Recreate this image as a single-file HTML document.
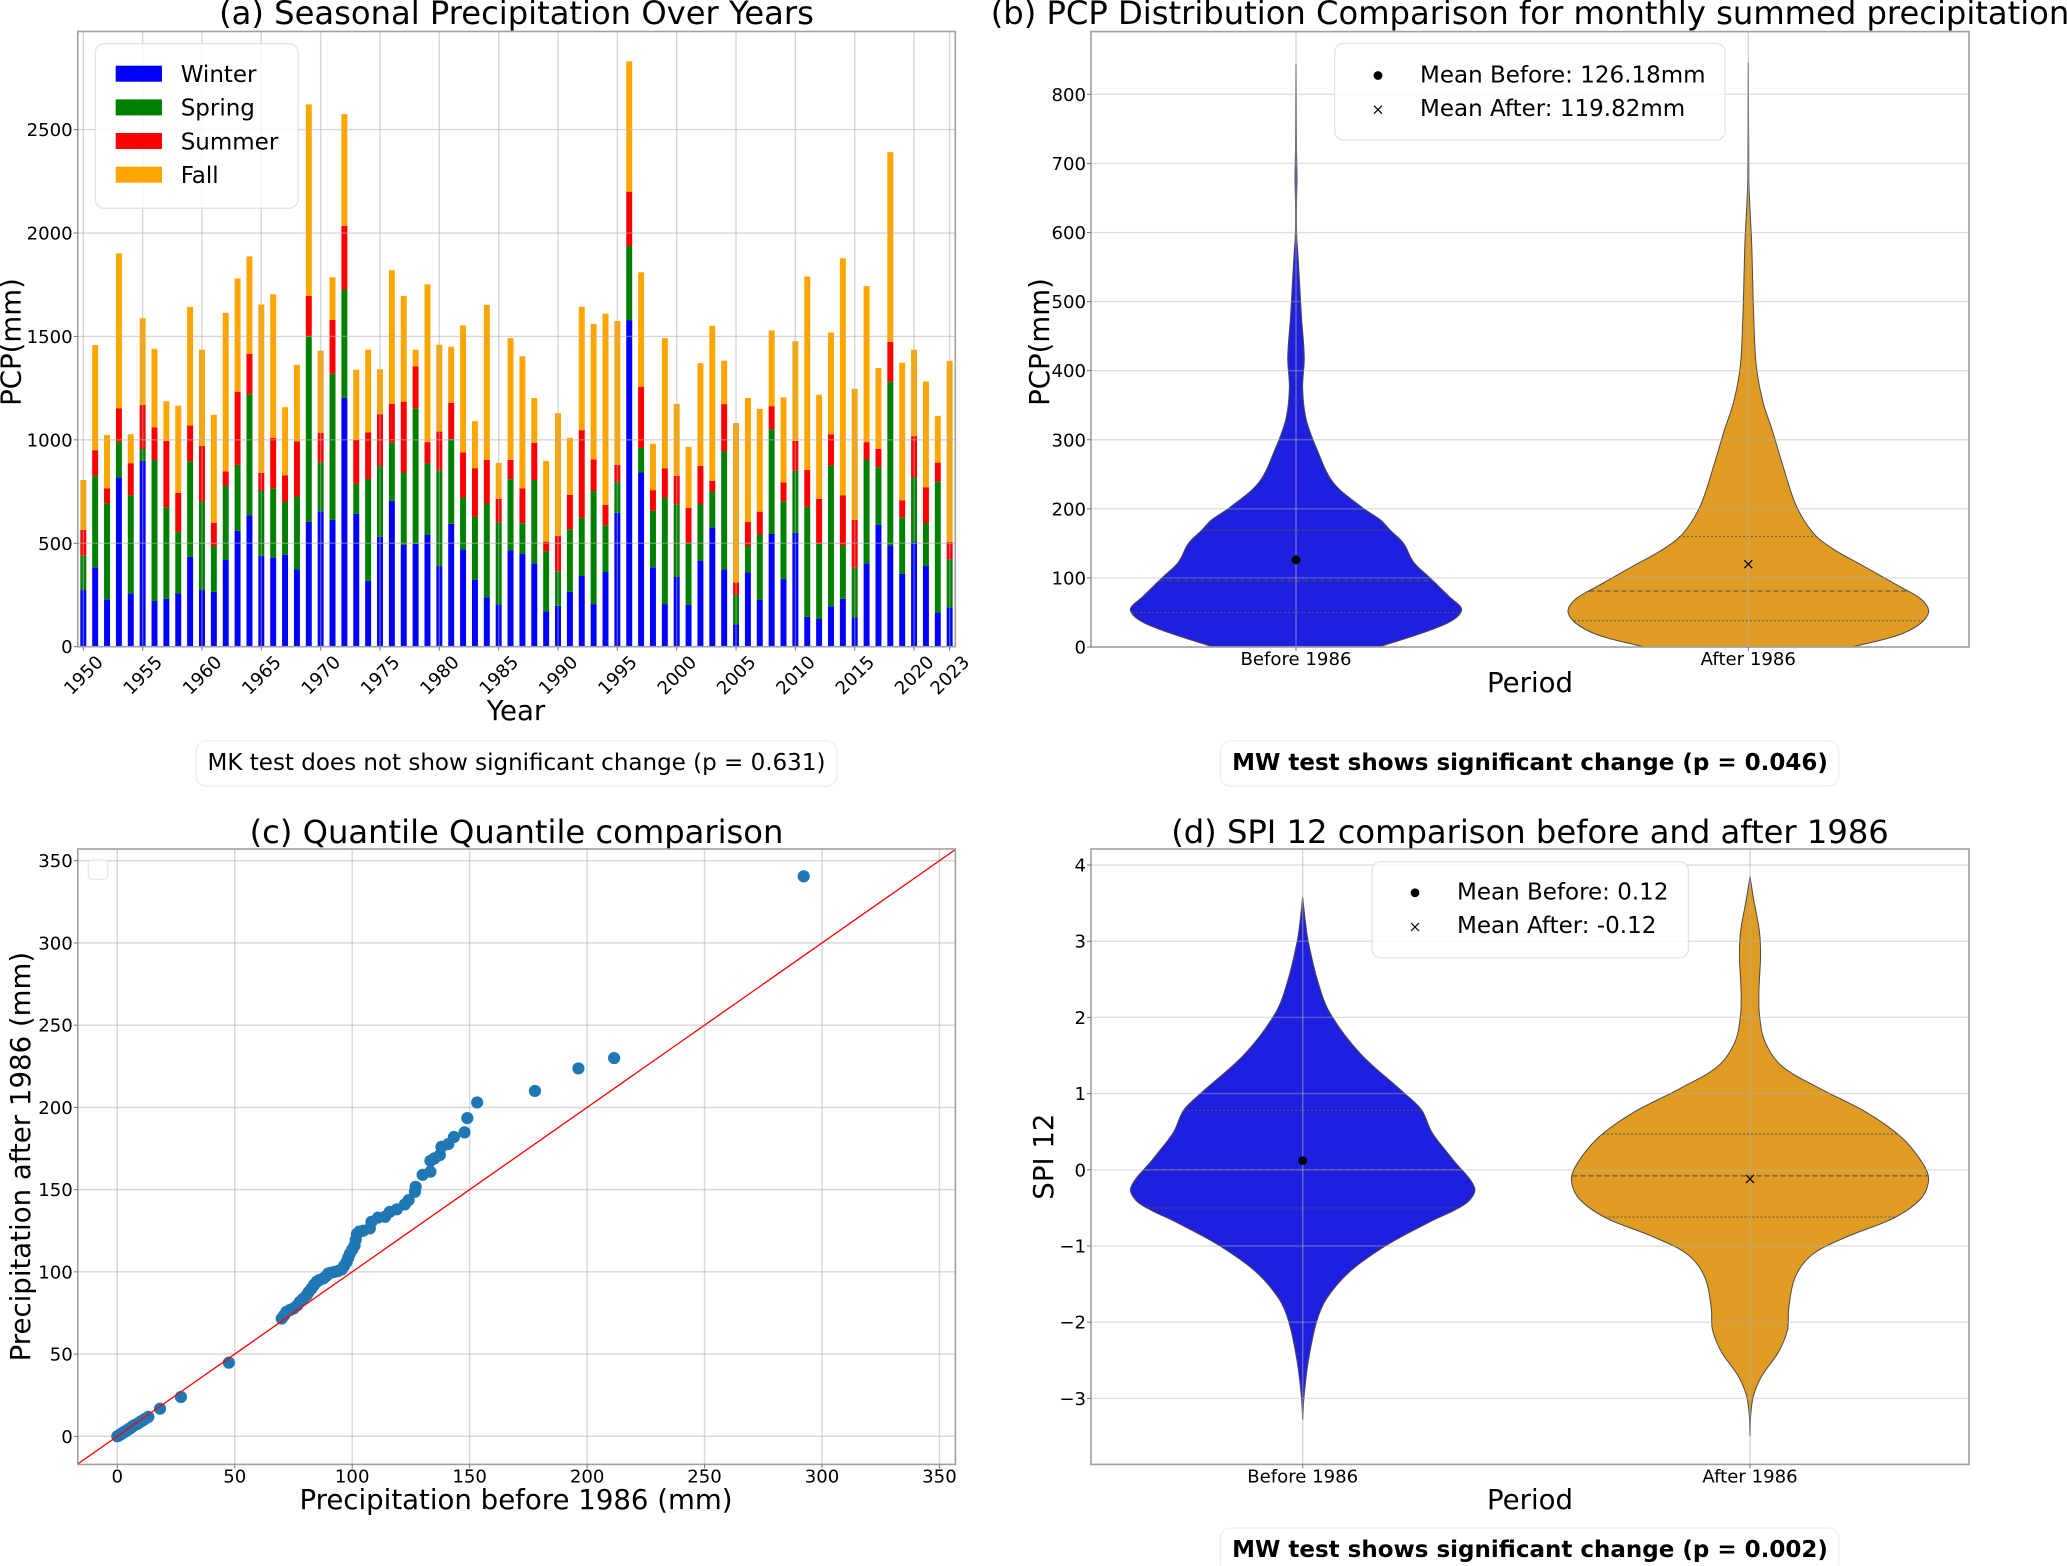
<!DOCTYPE html>
<html lang="en">
<head>
<meta charset="utf-8">
<title>Precipitation analysis panels</title>
<style>
html,body{margin:0;padding:0;background:#fff;}
svg{display:block;font-family:"DejaVu Sans","Liberation Sans",sans-serif;fill:#000;}
.title{font-size:32.2px;text-anchor:middle;}
.axlabel{font-size:27.6px;text-anchor:middle;}
.tick{font-size:18.1px;}
.leg{font-size:23px;}
.note{font-size:23px;text-anchor:middle;}
.note-b{font-size:23px;text-anchor:middle;font-weight:bold;}
</style>
</head>
<body>
<svg id="figure" xmlns="http://www.w3.org/2000/svg" width="2067" height="1566" viewBox="0 0 2067 1566">
  <rect x="0" y="0" width="2067" height="1566" fill="#ffffff"/>
  <defs>
    <clipPath id="clip-c"><rect x="77.8" y="849" width="877.6" height="615.4"/></clipPath>
  </defs>

  <!-- Panel A -->
  <g id="panel-a">
    <text class="title" x="516.5" y="24">(a) Seasonal Precipitation Over Years</text>
    <g id="a-marks"></g>
    <g id="a-axes"></g>
    <text class="axlabel" transform="translate(20.5,342) rotate(-90)">PCP(mm)</text>
    <text class="axlabel" x="516" y="720">Year</text>
    <g>
      <rect x="95.3" y="43.7" width="202.7" height="164.6" rx="9" fill="#ffffff" fill-opacity="0.8" stroke="#e4e4e4" stroke-width="1.3"/>
      <rect x="115.7" y="65.7" width="46.3" height="16" fill="#0000ff"/>
      <text class="leg" x="180.7" y="82">Winter</text>
      <rect x="115.7" y="99.4" width="46.3" height="16" fill="#008000"/>
      <text class="leg" x="180.7" y="115.7">Spring</text>
      <rect x="115.7" y="133" width="46.3" height="16" fill="#ff0000"/>
      <text class="leg" x="180.7" y="149.3">Summer</text>
      <rect x="115.7" y="166.7" width="46.3" height="16" fill="#ffa500"/>
      <text class="leg" x="180.7" y="183">Fall</text>
    </g>
    <g>
      <rect x="196" y="741" width="640.7" height="45" rx="10" fill="#ffffff" stroke="#eeeeee" stroke-width="1.3"/>
      <text class="note" x="516.5" y="770">MK test does not show significant change (p = 0.631)</text>
    </g>
  </g>

  <!-- Panel B -->
  <g id="panel-b">
    <text class="title" x="1530" y="24">(b) PCP Distribution Comparison for monthly summed precipitation</text>
    <g id="b-marks"></g>
    <g id="b-axes"></g>
    <text class="axlabel" transform="translate(1049,342) rotate(-90)">PCP(mm)</text>
    <text class="axlabel" x="1530" y="692">Period</text>
    <g>
      <rect x="1334.7" y="43.4" width="390.3" height="96.6" rx="9" fill="#ffffff" fill-opacity="0.8" stroke="#e4e4e4" stroke-width="1.3"/>
      <circle cx="1378" cy="75.5" r="4.4" fill="#000000"/>
      <text class="leg" x="1420" y="82.5">Mean Before: 126.18mm</text>
      <path d="M1374 105.7L1382 113.7M1374 113.7L1382 105.7" stroke="#000000" stroke-width="1.2" fill="none"/>
      <text class="leg" x="1420" y="116">Mean After: 119.82mm</text>
    </g>
    <g>
      <rect x="1220.4" y="741" width="618.4" height="45" rx="10" fill="#ffffff" stroke="#eeeeee" stroke-width="1.3"/>
      <text class="note-b" x="1530" y="770">MW test shows significant change (p = 0.046)</text>
    </g>
  </g>

  <!-- Panel C -->
  <g id="panel-c">
    <text class="title" x="516.5" y="843">(c) Quantile Quantile comparison</text>
    <g id="c-marks"></g>
    <g id="c-axes"></g>
    <rect x="88.3" y="860" width="19.4" height="19.3" rx="4" fill="#ffffff" fill-opacity="0.8" stroke="#e8e8e8" stroke-width="1.3"/>
    <text class="axlabel" transform="translate(30,1156.6) rotate(-90)">Precipitation after 1986 (mm)</text>
    <text class="axlabel" x="516" y="1509">Precipitation before 1986 (mm)</text>
  </g>

  <!-- Panel D -->
  <g id="panel-d">
    <text class="title" x="1530" y="843">(d) SPI 12 comparison before and after 1986</text>
    <g id="d-marks"></g>
    <g id="d-axes"></g>
    <text class="axlabel" transform="translate(1053,1156.6) rotate(-90)">SPI 12</text>
    <text class="axlabel" x="1530" y="1509">Period</text>
    <g>
      <rect x="1372" y="861.6" width="316.4" height="96.2" rx="9" fill="#ffffff" fill-opacity="0.8" stroke="#e4e4e4" stroke-width="1.3"/>
      <circle cx="1415" cy="892.8" r="4.4" fill="#000000"/>
      <text class="leg" x="1457" y="899.5">Mean Before: 0.12</text>
      <path d="M1411 923L1419 931M1411 931L1419 923" stroke="#000000" stroke-width="1.2" fill="none"/>
      <text class="leg" x="1457" y="933">Mean After: -0.12</text>
    </g>
    <g>
      <rect x="1220.4" y="1528" width="618.4" height="45" rx="10" fill="#ffffff" stroke="#eeeeee" stroke-width="1.3"/>
      <text class="note-b" x="1530" y="1557">MW test shows significant change (p = 0.002)</text>
    </g>
  </g>
</svg>

<script>
// ---------- Panel A data ----------
const firstYear = 1950;
const winter = [274,384,229,819,258,898,221,231,258,434,274,265,419,560,636,439,429,444,373,603,655,613,1203,642,318,532,705,492,498,540,390,594,471,323,239,205,465,448,403,171,198,265,342,206,361,647,1579,842,384,206,337,202,416,576,373,108,360,226,545,327,550,144,134,194,231,142,403,590,490,353,506,390,165,190];
const spring = [166,442,465,171,474,58,682,443,297,463,428,222,358,319,585,314,337,256,353,897,237,707,524,145,493,342,281,350,655,346,463,409,250,306,453,397,345,149,403,290,167,303,282,547,226,150,358,119,274,515,352,301,274,174,571,144,127,316,507,376,300,532,363,683,258,240,502,278,791,273,312,208,633,233];
const summer = [125,124,72,163,155,213,157,321,189,172,269,111,70,354,194,87,244,129,266,196,142,260,308,213,225,250,188,343,202,103,187,176,219,234,211,113,93,168,179,47,170,166,423,153,99,82,263,296,99,142,137,168,184,52,229,58,116,111,111,92,145,179,218,150,242,231,84,89,193,82,200,173,92,83];
const fall = [241,508,258,749,140,419,380,192,421,574,465,523,767,547,472,814,694,329,371,926,397,206,540,339,400,218,646,511,81,763,420,271,613,227,750,174,589,639,217,390,594,276,596,654,924,696,630,553,224,629,348,295,497,749,210,771,600,497,366,410,482,935,503,492,1147,634,754,390,917,665,418,511,226,876];
const yearTicks = [1950,1955,1960,1965,1970,1975,1980,1985,1990,1995,2000,2005,2010,2015,2020,2023];
const pcpTicks = [0,500,1000,1500,2000,2500];

// ---------- Panel B data ----------
const pcpBeforeLevels = [0,20,34,45,56,72,100,123,150,169,184,202,238,287,331,375,419,478,567,597,640,678,720,844];
const pcpBeforeDensity = [0.5,0.76,0.91,0.98,1,0.93,0.81,0.71,0.65,0.57,0.51,0.4,0.225,0.125,0.06,0.04,0.05,0.033,0.012,0.004,0.003,0.006,0.003,0];
const pcpAfterLevels = [0,17,35,52,69,89,117,142,165,205,264,316,353,405,478,582,641,678,846];
const pcpAfterDensity = [0.575,0.83,0.96,1,0.96,0.83,0.64,0.47,0.36,0.265,0.19,0.13,0.083,0.045,0.03,0.019,0.008,0.003,0];
const pcpBeforeQuartiles = [50,96,169];
const pcpAfterQuartiles = [38,81,160];
const pcpMeans = [126.18,119.82];
const pcpAxisTicks = [0,100,200,300,400,500,600,700,800];
const periodLabels = ['Before 1986','After 1986'];

// ---------- Panel C data ----------
const qqBefore = [0,0.5,1,1.5,2,2.5,3,3.5,4,4.5,5,5.5,6,6.5,7,8,9,10,11,12,13.2,18.2,27.1,47.5,70,71,72,73.5,75,76.5,77.7,79,80.6,81.5,82.7,83.7,84.8,86,87.7,89,89.8,91,92.6,94,95.5,96.5,97.6,98.3,99,100,101,101.5,102,103,104.7,107.5,108.2,111,114,116,119,122.4,124,126.7,127,130,133.3,133.3,135,137.3,138,140.9,143.3,147.8,149,153.2,177.8,196.3,211.5,292.2];
const qqAfter = [0,0.3,0.8,1.2,1.8,2.2,2.6,3.1,3.5,4,4.4,4.9,5.4,6,6.6,7.2,8,9,9.8,10.8,11.8,16.8,23.9,44.8,71.6,73.5,75.7,76.8,77.7,79.5,81.7,83.5,85.8,87.8,89.9,92,93.9,95,96,97.5,99,99.5,100,100.5,101.4,103.5,106,108.5,111,113.5,116,119.5,123,124.5,125,126.4,130.4,133,133.5,136.5,138,141,143.6,148.7,151.7,159,160.9,167.5,169,171,176,177.7,182,184.8,193.5,203,210,223.7,230,340.5];
const qqIdentity = [-17,357];
const qqTicks = [0,50,100,150,200,250,300,350];

// ---------- Panel D data ----------
const spiBeforeLevels = [-3.28,-2.97,-2.52,-2,-1.69,-1.33,-0.98,-0.69,-0.44,-0.24,0.14,0.49,0.78,1,1.52,2.06,2.48,3,3.25,3.58];
const spiBeforeDensity = [0,0.008,0.032,0.08,0.139,0.277,0.495,0.733,0.95,1,0.871,0.752,0.693,0.594,0.337,0.158,0.087,0.032,0.016,0];
const spiAfterLevels = [-3.5,-3.22,-2.97,-2.71,-2.39,-2.1,-1.81,-1.4,-1.11,-0.88,-0.63,-0.37,-0.115,0.11,0.43,0.75,1.07,1.36,1.68,2.03,2.35,2.8,3.12,3.57,3.85];
const spiAfterDensity = [0,0.004,0.019,0.065,0.16,0.21,0.217,0.255,0.35,0.541,0.808,0.96,1,0.96,0.846,0.655,0.389,0.179,0.084,0.053,0.05,0.059,0.053,0.019,0];
const spiBeforeQuartiles = [-0.5,0,0.78];
const spiAfterQuartiles = [-0.62,-0.08,0.47];
const spiMeans = [0.12,-0.12];
const spiTicks = [-3,-2,-1,0,1,2,3,4];

// ---------- Helpers ----------
const NS = 'http://www.w3.org/2000/svg';
function mk(tag, parent, attrs, text) {
  const e = document.createElementNS(NS, tag);
  for (const k in attrs) e.setAttribute(k, attrs[k]);
  if (text !== undefined) e.textContent = text;
  parent.appendChild(e);
  return e;
}
const SPINE = '#a0a0a0', GRID = '#b0b0b0', TICKC = '#777777';

function gridLine(parent, x1, y1, x2, y2, opacity) {
  const l = mk('line', parent, {x1:x1, y1:y1, x2:x2, y2:y2, stroke:GRID, 'stroke-width':1.4, 'stroke-opacity':opacity});
  
  
}
function frame(parent, l, t, r, b) {
  const f = mk('rect', parent, {x:l, y:t, width:r-l, height:b-t, fill:'none', stroke:SPINE, 'stroke-width':1.6});
  
  
}
function yTick(parent, box, y, label) {
  const m = mk('line', parent, {x1:box.l-4, y1:y, x2:box.l, y2:y, stroke:TICKC, 'stroke-width':1});
  
  
  const t = mk('text', parent, {x:box.l-5, y:y+6.5, 'class':'tick', 'text-anchor':'end'}, label);
  
  
}
function xTick(parent, box, x, label, baseline) {
  const m = mk('line', parent, {x1:x, y1:box.b, x2:x, y2:box.b+4, stroke:TICKC, 'stroke-width':1});
  
  
  const t = mk('text', parent, {x:x, y:baseline, 'class':'tick', 'text-anchor':'middle'}, label);
  
  
}
function fmtMinus(v) { return v < 0 ? '\u2212' + Math.abs(v) : String(v); }

// Chord-length Catmull-Rom: keeps the curve smooth where the read points are unevenly spaced.
function spline(pts) {
  const dist = function(a, b){ return Math.hypot(a[0]-b[0], a[1]-b[1]) || 0.001; };
  const tangent = function(i) {
    const a = pts[Math.max(i-1,0)], b = pts[i], c = pts[Math.min(i+1,pts.length-1)];
    const span = dist(a,b) + dist(b,c);
    return [(c[0]-a[0])/span, (c[1]-a[1])/span];
  };
  let d = '';
  for (let i = 0; i < pts.length - 1; i++) {
    const p1 = pts[i], p2 = pts[i+1], m1 = tangent(i), m2 = tangent(i+1), seg = dist(p1,p2)/3;
    d += 'C' + (p1[0]+m1[0]*seg).toFixed(2) + ' ' + (p1[1]+m1[1]*seg).toFixed(2) + ' ' +
         (p2[0]-m2[0]*seg).toFixed(2) + ' ' + (p2[1]-m2[1]*seg).toFixed(2) + ' ' +
         p2[0].toFixed(2) + ' ' + p2[1].toFixed(2);
  }
  return d;
}
function interp(levels, dens, v) {
  for (let i = 0; i < levels.length - 1; i++) {
    if (v >= levels[i] && v <= levels[i+1]) {
      const f = (v - levels[i]) / (levels[i+1] - levels[i]);
      return dens[i] + f * (dens[i+1] - dens[i]);
    }
  }
  return 0;
}
function drawViolin(parent, name, cx, yFn, maxHalf, levels, dens, quarts, color) {
  const right = levels.map(function(v,i){ return [cx + dens[i]*maxHalf, yFn(v)]; });
  const left = levels.map(function(v,i){ return [cx - dens[i]*maxHalf, yFn(v)]; }).reverse();
  const d = 'M' + right[0][0].toFixed(2) + ' ' + right[0][1].toFixed(2) + spline(right) +
            'L' + left[0][0].toFixed(2) + ' ' + left[0][1].toFixed(2) + spline(left) + 'Z';
  const body = mk('path', parent, {d:d, fill:color, stroke:'#4a4a4a', 'stroke-width':1});
  
  
  quarts.forEach(function(q, i) {
    const hw = interp(levels, dens, q) * maxHalf;
    const dash = i === 1 ? '5 3' : '1.6 2.4';
    const ql = mk('line', parent, {x1:cx-hw, y1:yFn(q), x2:cx+hw, y2:yFn(q), stroke:'#555555', 'stroke-width':1.2, 'stroke-dasharray':dash});
    
    
  });
}
function meanDot(parent, name, x, y) {
  const c = mk('circle', parent, {cx:x, cy:y, r:4.4, fill:'#000000'});
  
  
}
function meanCross(parent, name, x, y) {
  const s = 4;
  const c = mk('path', parent, {d:'M'+(x-s)+' '+(y-s)+'L'+(x+s)+' '+(y+s)+'M'+(x-s)+' '+(y+s)+'L'+(x+s)+' '+(y-s), stroke:'#000000', 'stroke-width':1.2, fill:'none'});
  
  
}

// ---------- Panel A ----------
(function() {
  const box = {l:77.7, t:31.5, r:955.3, b:646.7};
  const x = function(year){ return 83.3 + (year - firstYear) * 11.868; };
  const y = function(v){ return 646.7 - v * 0.20684; };
  const marks = document.getElementById('a-marks');
  const axes = document.getElementById('a-axes');
  const barW = 5.95;
  const seasons = [
    {key:'winter', values:winter, color:'#0000ff'},
    {key:'spring', values:spring, color:'#008000'},
    {key:'summer', values:summer, color:'#ff0000'},
    {key:'fall', values:fall, color:'#ffa500'}
  ];
  winter.forEach(function(_, i) {
    let base = 0;
    seasons.forEach(function(s) {
      const v = s.values[i];
      const r = mk('rect', marks, {x:x(firstYear+i)-barW/2, y:y(base+v), width:barW, height:y(base)-y(base+v), fill:s.color});
      
      
      base += v;
    });
  });
  yearTicks.forEach(function(t){ gridLine(axes, x(t), box.t, x(t), box.b, 0.5); });
  pcpTicks.forEach(function(t){ gridLine(axes, box.l, y(t), box.r, y(t), 0.5); });
  frame(axes, box.l, box.t, box.r, box.b);
  pcpTicks.forEach(function(t){ yTick(axes, box, y(t), String(t)); });
  yearTicks.forEach(function(t) {
    const m = mk('line', axes, {x1:x(t), y1:box.b, x2:x(t), y2:box.b+4, stroke:TICKC, 'stroke-width':1});
    
    
    const lb = mk('text', axes, {'class':'tick', 'text-anchor':'middle', transform:'translate(' + x(t) + ',675) rotate(-45) translate(0,6.4)'}, String(t));
    
    
  });
})();

// ---------- Panel B ----------
(function() {
  const box = {l:1091, t:31.6, r:1969, b:647};
  const y = function(v){ return 647 - v * 0.6908; };
  const cx = [1296, 1748.3];
  const marks = document.getElementById('b-marks');
  const axes = document.getElementById('b-axes');
  drawViolin(marks, 'violin-pcp-before', cx[0], y, 165.5, pcpBeforeLevels, pcpBeforeDensity, pcpBeforeQuartiles, '#1f1fdf');
  drawViolin(marks, 'violin-pcp-after', cx[1], y, 180.3, pcpAfterLevels, pcpAfterDensity, pcpAfterQuartiles, '#e09c22');
  pcpAxisTicks.forEach(function(t){ gridLine(axes, box.l, y(t), box.r, y(t), 0.4); });
  cx.forEach(function(c){ gridLine(axes, c, box.t, c, box.b, 0.5); });
  meanDot(axes, 'mean-marker-pcp-before', cx[0], y(pcpMeans[0]));
  meanCross(axes, 'mean-marker-pcp-after', cx[1], y(pcpMeans[1]));
  frame(axes, box.l, box.t, box.r, box.b);
  pcpAxisTicks.forEach(function(t){ yTick(axes, box, y(t), String(t)); });
  periodLabels.forEach(function(p, i){ xTick(axes, box, cx[i], p, 665); });
})();

// ---------- Panel C ----------
(function() {
  const box = {l:77.8, t:849, r:955.4, b:1464.4};
  const x = function(v){ return 117.3 + v * 2.349; };
  const y = function(v){ return 1436.3 - v * 1.6445; };
  const marks = document.getElementById('c-marks');
  const axes = document.getElementById('c-axes');
  qqTicks.forEach(function(t){ gridLine(axes, x(t), box.t, x(t), box.b, 0.5); });
  qqTicks.forEach(function(t){ gridLine(axes, box.l, y(t), box.r, y(t), 0.5); });
  qqBefore.forEach(function(b, i) {
    const p = mk('circle', axes, {cx:x(b), cy:y(qqAfter[i]), r:6.1, fill:'#1f77b4'});
    
    
  });
  const line = mk('line', axes, {x1:x(qqIdentity[0]), y1:y(qqIdentity[0]), x2:x(qqIdentity[1]), y2:y(qqIdentity[1]), stroke:'#ff0000', 'stroke-width':1.3, 'clip-path':'url(#clip-c)'});
  
  
  frame(axes, box.l, box.t, box.r, box.b);
  qqTicks.forEach(function(t){ yTick(axes, box, y(t), String(t)); });
  qqTicks.forEach(function(t){ xTick(axes, box, x(t), String(t), 1482.5); });
})();

// ---------- Panel D ----------
(function() {
  const box = {l:1091, t:849, r:1969, b:1464.4};
  const y = function(v){ return 1169.8 - v * 76.2; };
  const cx = [1302.7, 1750];
  const marks = document.getElementById('d-marks');
  const axes = document.getElementById('d-axes');
  drawViolin(marks, 'violin-spi-before', cx[0], y, 172, spiBeforeLevels, spiBeforeDensity, spiBeforeQuartiles, '#1f1fdf');
  drawViolin(marks, 'violin-spi-after', cx[1], y, 178.6, spiAfterLevels, spiAfterDensity, spiAfterQuartiles, '#e09c22');
  spiTicks.forEach(function(t){ gridLine(axes, box.l, y(t), box.r, y(t), 0.4); });
  cx.forEach(function(c){ gridLine(axes, c, box.t, c, box.b, 0.5); });
  meanDot(axes, 'mean-marker-spi-before', cx[0], y(spiMeans[0]));
  meanCross(axes, 'mean-marker-spi-after', cx[1], y(spiMeans[1]));
  frame(axes, box.l, box.t, box.r, box.b);
  spiTicks.forEach(function(t){ yTick(axes, box, y(t), fmtMinus(t)); });
  periodLabels.forEach(function(p, i){ xTick(axes, box, cx[i], p, 1482.5); });
})();
</script>
</body>
</html>
